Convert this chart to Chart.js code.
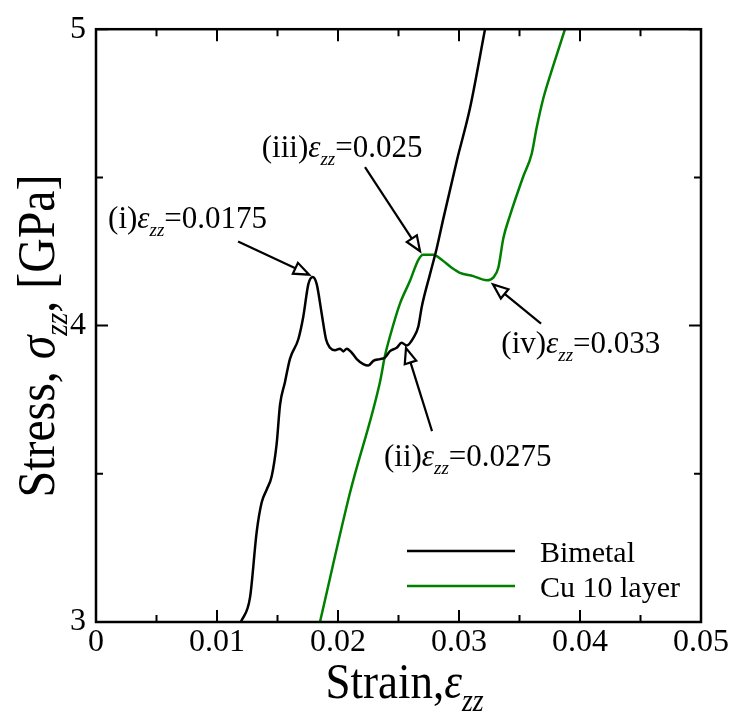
<!DOCTYPE html>
<html>
<head>
<meta charset="utf-8">
<script src="https://cdn.jsdelivr.net/npm/chart.js@4.4.1/dist/chart.umd.min.js"></script>
<style>
  html, body { margin: 0; padding: 0; background: #fff; }
  #wrap { width: 735px; height: 721px; }
</style>
</head>
<body>
<div id="wrap"><canvas id="stressChart" width="735" height="721"></canvas></div>
<script>
// Bimetal curve (strain, stress in GPa)
const bimetalStrain = [0.01198, 0.01273, 0.01328, 0.01369, 0.01411, 0.01452, 0.01493, 0.01521, 0.01562, 0.01603,
  0.01672, 0.01713, 0.01755, 0.01791, 0.01824, 0.01865, 0.01901, 0.01934, 0.01975, 0.02017,
  0.02044, 0.02072, 0.02113, 0.02155, 0.02209, 0.02250, 0.02292, 0.02347, 0.02388, 0.02430,
  0.02485, 0.02526, 0.02568, 0.02622, 0.02664, 0.02692, 0.02760, 0.02816, 0.02870, 0.02983,
  0.03091, 0.03215];
const bimetalStress = [3.000, 3.083, 3.304, 3.403, 3.447, 3.492, 3.601, 3.733, 3.810, 3.888,
  3.954, 4.030, 4.140, 4.164, 4.140, 4.041, 3.954, 3.925, 3.917, 3.922,
  3.913, 3.922, 3.909, 3.887, 3.870, 3.865, 3.881, 3.887, 3.892, 3.914,
  3.925, 3.942, 3.933, 3.958, 3.997, 4.063, 4.173, 4.261, 4.360, 4.558,
  4.734, 5.000];

// Cu 10 layer curve
const cuStrain = [0.01851, 0.02099, 0.02347, 0.02388, 0.02430, 0.02512, 0.02595, 0.02664, 0.02705, 0.02788,
  0.02857, 0.02940, 0.03008, 0.03118, 0.03229, 0.03283, 0.03325, 0.03366, 0.03421, 0.03531,
  0.03601, 0.03642, 0.03697, 0.03779, 0.03876];
const cuStress = [3.000, 3.436, 3.810, 3.898, 3.964, 4.074, 4.151, 4.222, 4.239, 4.239,
  4.222, 4.195, 4.178, 4.167, 4.153, 4.162, 4.195, 4.294, 4.371, 4.503,
  4.580, 4.668, 4.767, 4.877, 5.000];

const seriesLabels = ['Bimetal', 'Cu 10 layer'];

// annotation labels: prefix, value, where the text starts, arrow tail and tip (data units)
const noteLabels = ['(i)', '(ii)', '(iii)', '(iv)'];
const noteValues = ['0.0175', '0.0275', '0.025', '0.033'];
const noteText = [[0.00100, 4.330], [0.02380, 3.525], [0.01370, 4.568], [0.03350, 3.908]];
const noteTail = [[0.01174, 4.284], [0.02777, 3.644], [0.02223, 4.535], [0.03678, 4.007]];
const noteTip = [[0.01760, 4.172], [0.02562, 3.924], [0.02678, 4.251], [0.03281, 4.139]];

const SERIF = '"Liberation Serif", "Times New Roman", serif';
const GREEN = '#008000';

function toPoints(xs, ys) {
  return xs.map((x, i) => ({ x: x, y: ys[i] }));
}

// draws text pieces in a row; piece = {t, it, sub}
function drawRich(ctx, parts, x, y, size) {
  let cx = x;
  parts.forEach(p => {
    const fs = p.sub ? Math.round(size * 0.62) : size;
    ctx.font = (p.it ? 'italic ' : '') + fs + 'px ' + SERIF;
    ctx.fillText(p.t, cx, y + (p.sub ? size * 0.25 : 0));
    cx += ctx.measureText(p.t).width;
  });
  return cx - x;
}

function richWidth(ctx, parts, size) {
  let w = 0;
  parts.forEach(p => {
    const fs = p.sub ? Math.round(size * 0.62) : size;
    ctx.font = (p.it ? 'italic ' : '') + fs + 'px ' + SERIF;
    w += ctx.measureText(p.t).width;
  });
  return w;
}

function drawArrow(ctx, x1, y1, x2, y2) {
  const ang = Math.atan2(y2 - y1, x2 - x1);
  const len = 15, half = 6;
  const bx = x2 - Math.cos(ang) * len, by = y2 - Math.sin(ang) * len;
  ctx.beginPath();
  ctx.moveTo(x1, y1);
  ctx.lineTo(bx, by);
  ctx.stroke();
  ctx.beginPath();
  ctx.moveTo(x2, y2);
  ctx.lineTo(bx + Math.sin(ang) * half, by - Math.cos(ang) * half);
  ctx.lineTo(bx - Math.sin(ang) * half, by + Math.cos(ang) * half);
  ctx.closePath();
  ctx.fillStyle = '#fff';
  ctx.fill();
  ctx.stroke();
}

const framePlugin = {
  id: 'frame',
  afterDraw(chart) {
    const ctx = chart.ctx;
    const a = chart.chartArea;
    const xs = chart.scales.x, ys = chart.scales.y;
    ctx.save();
    ctx.strokeStyle = '#000';
    ctx.lineWidth = 2.5;
    ctx.strokeRect(a.left, a.top, a.right - a.left, a.bottom - a.top);

    // inward ticks on all four sides
    ctx.lineWidth = 2;
    for (let i = 0; i <= 10; i++) {
      const v = i * 0.005;
      const px = xs.getPixelForValue(v);
      const len = i % 2 === 0 ? 12 : 7;
      ctx.beginPath();
      ctx.moveTo(px, a.bottom); ctx.lineTo(px, a.bottom - len);
      ctx.moveTo(px, a.top); ctx.lineTo(px, a.top + len);
      ctx.stroke();
    }
    for (let i = 0; i <= 4; i++) {
      const v = 3 + i * 0.5;
      const py = ys.getPixelForValue(v);
      const len = i % 2 === 0 ? 12 : 7;
      ctx.beginPath();
      ctx.moveTo(a.left, py); ctx.lineTo(a.left + len, py);
      ctx.moveTo(a.right, py); ctx.lineTo(a.right - len, py);
      ctx.stroke();
    }

    // legend
    ctx.fillStyle = '#000';
    ctx.textBaseline = 'alphabetic';
    ctx.font = '30px ' + SERIF;
    chart.data.datasets.forEach((ds, i) => {
      const ly = a.bottom - 71 + i * 35;
      ctx.strokeStyle = ds.borderColor;
      ctx.lineWidth = 2.5;
      ctx.beginPath();
      ctx.moveTo(a.right - 294, ly);
      ctx.lineTo(a.right - 186, ly);
      ctx.stroke();
      ctx.fillText(ds.label, a.right - 161, ly + 11);
    });

    // annotations with arrows
    ctx.strokeStyle = '#000';
    ctx.lineWidth = 2.2;
    noteLabels.forEach((lab, i) => {
      ctx.fillStyle = '#000';
      drawRich(ctx, [
        { t: lab },
        { t: 'ε', it: true },
        { t: 'zz', it: true, sub: true },
        { t: '=' + noteValues[i] }
      ], xs.getPixelForValue(noteText[i][0]), ys.getPixelForValue(noteText[i][1]), 31);
      drawArrow(ctx,
        xs.getPixelForValue(noteTail[i][0]), ys.getPixelForValue(noteTail[i][1]),
        xs.getPixelForValue(noteTip[i][0]), ys.getPixelForValue(noteTip[i][1]));
    });

    // axis titles (drawn a little narrow, like the original)
    ctx.fillStyle = '#000';
    const xTitle = [{ t: 'Strain,' }, { t: 'ε', it: true }, { t: 'zz', it: true, sub: true }];
    const xw = richWidth(ctx, xTitle, 50) * 0.9;
    ctx.save();
    ctx.translate((a.left + a.right) / 2 - xw / 2 + 6, 698);
    ctx.scale(0.9, 1);
    drawRich(ctx, xTitle, 0, 0, 50);
    ctx.restore();

    const yTitle = [{ t: 'Stress, ' }, { t: 'σ', it: true }, { t: 'zz', it: true, sub: true }, { t: ', [GPa]' }];
    const yw = richWidth(ctx, yTitle, 52) * 0.92;
    ctx.translate(54, 336);
    ctx.rotate(-Math.PI / 2);
    ctx.scale(0.92, 1);
    drawRich(ctx, yTitle, -yw / 2 / 0.92, 0, 52);
    ctx.restore();
  }
};

const ctx = document.getElementById('stressChart').getContext('2d');

new Chart(ctx, {
  type: 'scatter',
  data: {
    datasets: [{
      label: seriesLabels[0],
      data: toPoints(bimetalStrain, bimetalStress),
      borderColor: '#000',
      borderWidth: 2.5,
      showLine: true,
      pointRadius: 0,
      cubicInterpolationMode: 'monotone'
    }, {
      label: seriesLabels[1],
      data: toPoints(cuStrain, cuStress),
      borderColor: GREEN,
      borderWidth: 2.5,
      showLine: true,
      pointRadius: 0,
      cubicInterpolationMode: 'monotone'
    }]
  },
  options: {
    responsive: false,
    animation: false,
    layout: { padding: { top: 16, right: 34, left: 0, bottom: 0 } },
    plugins: {
      legend: { display: false },
      tooltip: { enabled: false }
    },
    scales: {
      x: {
        type: 'linear',
        min: 0,
        max: 0.05,
        grid: { display: false, drawTicks: false },
        border: { display: false },
        afterFit: s => { s.height = 99; },
        ticks: {
          stepSize: 0.01,
          maxRotation: 0,
          padding: 1,
          color: '#000',
          font: { family: SERIF, size: 32 },
          callback: v => (v === 0 ? '0' : String(+v.toFixed(3)))
        }
      },
      y: {
        min: 3,
        max: 5,
        grid: { display: false, drawTicks: false },
        border: { display: false },
        afterFit: s => { s.width = 96; },
        ticks: {
          stepSize: 1,
          padding: 10,
          color: '#000',
          font: { family: SERIF, size: 32 }
        }
      }
    }
  },
  plugins: [framePlugin]
});
</script>
</body>
</html>
